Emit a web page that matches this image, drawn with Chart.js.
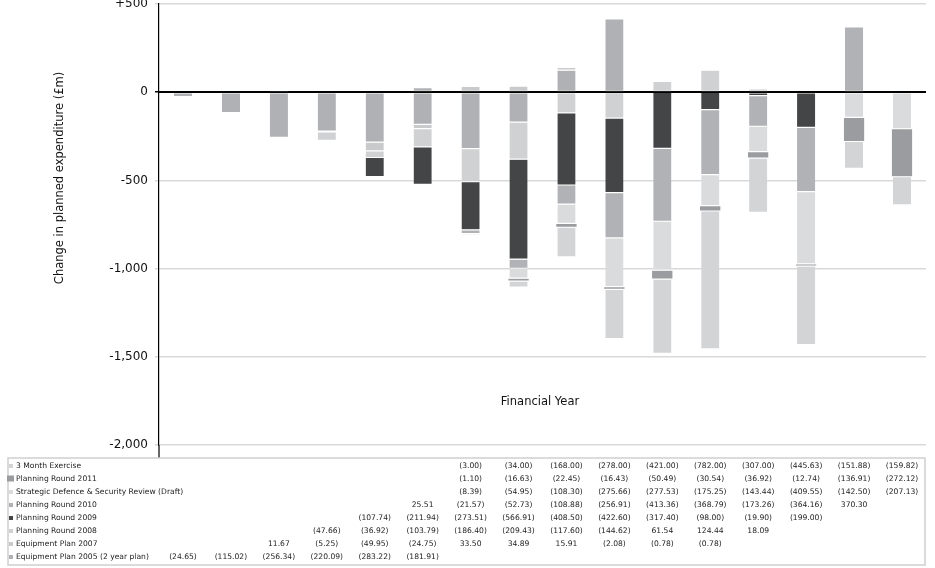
<!DOCTYPE html>
<html>
<head>
<meta charset="utf-8">
<script src="https://cdn.jsdelivr.net/npm/chart.js@4"></script>
<style>
  body { margin: 0; background: #fff; }
  #wrap { width: 935px; height: 568px; }
</style>
</head>
<body>
<div id="wrap"><canvas id="changeChart"></canvas></div>
<script>
// financial year columns (no labels are printed on the chart)
var columns = ['Y1','Y2','Y3','Y4','Y5','Y6','Y7','Y8','Y9','Y10','Y11','Y12','Y13','Y14','Y15','Y16'];

// values shown in the data table (£m)
var threeMonth = [null, null, null, null, null, null, -3.00, -34.00, -168.00, -278.00, -421.00, -782.00, -307.00, -445.63, -151.88, -159.82];
var pr2011 = [null, null, null, null, null, null, -1.10, -16.63, -22.45, -16.43, -50.49, -30.54, -36.92, -12.74, -136.91, -272.12];
var sdsr = [null, null, null, null, null, null, -8.39, -54.95, -108.30, -275.66, -277.53, -175.25, -143.44, -409.55, -142.50, -207.13];
var pr2010 = [null, null, null, null, null, 25.51, -21.57, -52.73, -108.88, -256.91, -413.36, -368.79, -173.26, -364.16, 370.30, null];
var pr2009 = [null, null, null, null, -107.74, -211.94, -273.51, -566.91, -408.50, -422.60, -317.40, -98.00, -19.90, -199.00, null, null];
var pr2008 = [null, null, null, -47.66, -36.92, -103.79, -186.40, -209.43, -117.60, -144.62, 61.54, 124.44, 18.09, null, null, null];
var ep2007 = [null, null, 11.67, -5.25, -49.95, -24.75, 33.50, 34.89, 15.91, -2.08, -0.78, -0.78, null, null, null, null];
var ep2005 = [-24.65, -115.02, -256.34, -220.09, -283.22, -181.91, null, null, null, null, null, null, null, null, null, null];
// segment drawn in the chart but not listed in the table
var ep2005Unlisted = [null, null, null, null, null, null, -320, -170, 125, 415, null, null, null, null, null, null];

var yTicks = [500, 0, -500, -1000, -1500, -2000];

var seriesInfo = [
    { label: 'Equipment Plan 2005 (2 year plan)', data: ep2005, color: '#b0b1b4', table: true },
    { label: 'Equipment Plan 2005 (unlisted)', data: ep2005Unlisted, color: '#b0b1b4', table: false },
    { label: 'Equipment Plan 2007', data: ep2007, color: '#c9cacc', table: true },
    { label: 'Planning Round 2008', data: pr2008, color: '#d0d1d3', table: true },
    { label: 'Planning Round 2009', data: pr2009, color: '#444547', table: true },
    { label: 'Planning Round 2010', data: pr2010, color: '#b1b2b5', table: true },
    { label: 'Strategic Defence & Security Review (Draft)', data: sdsr, color: '#dadbdd', table: true },
    { label: 'Planning Round 2011', data: pr2011, color: '#9b9c9f', table: true, wide: true },
    { label: '3 Month Exercise', data: threeMonth, color: '#d3d4d6', table: true }
];

var datasets = seriesInfo.map(function(s) {
    return {
        label: s.label,
        data: s.data,
        backgroundColor: s.color,
        borderColor: '#ffffff',
        borderWidth: { top: 0.6, bottom: 0.6, left: 0, right: 0 },
        borderSkipped: false,
        categoryPercentage: 1,
        barPercentage: s.wide ? 0.43 : 0.38
    };
});

function fmtValue(v) {
    return v < 0 ? '(' + Math.abs(v).toFixed(2) + ')' : v.toFixed(2);
}

var extrasPlugin = {
    id: 'extras',
    afterDatasetsDraw: function(chart) {
        var ctx = chart.ctx;
        var y = chart.scales.y;
        var area = chart.chartArea;
        // zero line on top of the bars
        ctx.save();
        ctx.strokeStyle = '#000';
        ctx.lineWidth = 1.5;
        ctx.beginPath();
        ctx.moveTo(area.left, y.getPixelForValue(0));
        ctx.lineTo(area.right, y.getPixelForValue(0));
        ctx.stroke();
        ctx.restore();
    },
    afterDraw: function(chart) {
        var ctx = chart.ctx;
        var x = chart.scales.x;
        var area = chart.chartArea;
        ctx.save();

        // axis titles
        ctx.fillStyle = '#111';
        ctx.font = '11.5px "DejaVu Sans"';
        ctx.textAlign = 'center';
        ctx.textBaseline = 'middle';
        ctx.save();
        ctx.translate(60, 178);
        ctx.rotate(-Math.PI / 2);
        ctx.fillText('Change in planned expenditure (£m)', 0, 0);
        ctx.restore();
        ctx.fillText('Financial Year', 540, 402);

        // y axis continues down to the table
        ctx.strokeStyle = '#000';
        ctx.lineWidth = 1.2;
        ctx.beginPath();
        ctx.moveTo(area.left, area.bottom);
        ctx.lineTo(area.left, 458);
        ctx.stroke();

        // data table
        ctx.strokeStyle = '#cfcfcf';
        ctx.lineWidth = 1.5;
        ctx.strokeRect(8, 458, 917, 107);

        var rows = seriesInfo.filter(function(s) { return s.table; }).reverse();
        ctx.font = '7.6px "DejaVu Sans"';
        ctx.textBaseline = 'middle';
        rows.forEach(function(s, i) {
            var rowY = 466 + i * 13;
            ctx.fillStyle = s.color;
            if (s.wide) {
                ctx.fillRect(7, rowY - 3.5, 7, 6);
            } else {
                ctx.fillRect(9, rowY - 2, 4, 4);
            }
            ctx.fillStyle = '#222';
            ctx.textAlign = 'left';
            ctx.fillText(s.label, 16, rowY);
            ctx.textAlign = 'center';
            s.data.forEach(function(v, j) {
                if (v === null) return;
                ctx.fillText(fmtValue(v), x.getPixelForValue(j), rowY);
            });
        });
        ctx.restore();
    }
};

var ctx = document.getElementById('changeChart').getContext('2d');
var changeChart = new Chart(ctx, {
    type: 'bar',
    data: { labels: columns, datasets: datasets },
    options: {
        responsive: true,
        maintainAspectRatio: false,
        animation: false,
        layout: { padding: { top: 4, right: 9, bottom: 123, left: 0 } },
        plugins: {
            legend: { display: false },
            tooltip: { enabled: false }
        },
        scales: {
            x: { display: false, stacked: true },
            y: {
                stacked: true,
                min: -2000,
                max: 500,
                afterFit: function(scale) {
                    scale.width = 159;
                    scale.paddingTop = 0;
                    scale.paddingBottom = 0;
                },
                afterBuildTicks: function(scale) {
                    scale.ticks = yTicks.map(function(v) { return { value: v }; });
                },
                ticks: {
                    color: '#111',
                    padding: 7,
                    font: { family: 'DejaVu Sans', size: 12 },
                    callback: function(v) {
                        return (v > 0 ? '+' : '') + v.toLocaleString('en-US');
                    }
                },
                grid: {
                    color: function(c) { return c.tick && c.tick.value === 0 ? '#000' : '#d9d9d9'; },
                    lineWidth: 1.5,
                    tickLength: 4
                },
                border: { color: '#000', width: 1.2 }
            }
        }
    },
    plugins: [extrasPlugin]
});
</script>
</body>
</html>
